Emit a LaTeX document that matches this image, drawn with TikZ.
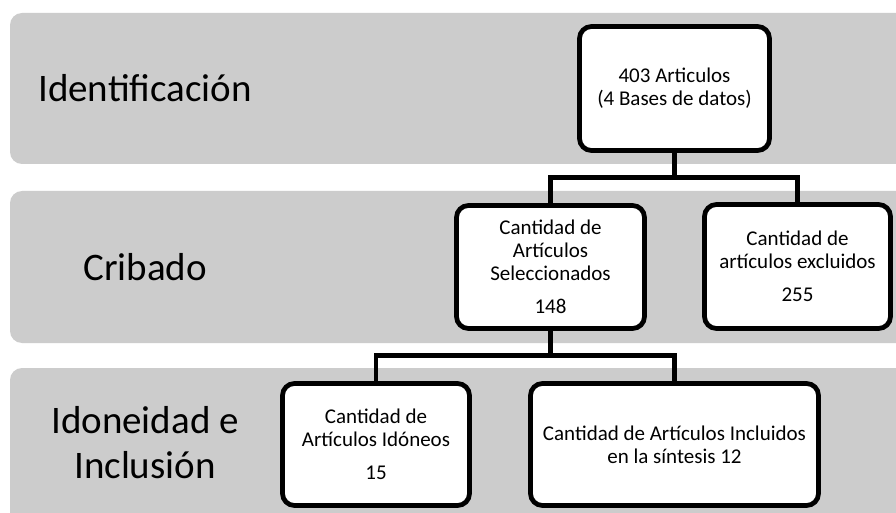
\documentclass[tikz,border=0pt]{standalone}
\usepackage{fontspec}
\setmainfont{Carlito}
\definecolor{bandgray}{HTML}{CCCCCC}
\begin{document}
\begin{tikzpicture}[x=1pt,y=-1pt,
  band/.style={fill=bandgray,draw=none,rounded corners=12pt},
  lbl/.style={align=center,font=\fontsize{39}{45}\selectfont,inner sep=0pt},
  boxnode/.style={draw=black,fill=white,line width=4.75pt,rounded corners=12pt,align=center,
     font=\fontsize{21}{23}\selectfont,inner sep=2pt},
  conn/.style={draw=black,line width=4.75pt}]
\useasboundingbox (0,0) rectangle (896,513);
\clip (0,0) rectangle (896,513);
\fill[white] (0,0) rectangle (896,513);
% bands
\path[band] (10,13) rectangle (920,164);
\path[band] (10,191) rectangle (920,343);
\path[band] (10,368) rectangle (920,540);
% band labels
\node[lbl] (l1) at (145,88) {Identificación};
\node[lbl] (l2) at (145,267) {Cribado};
\node[lbl] (l3) at (145,443) {Idoneidad e\\Inclusión};
% boxes
\node[boxnode,minimum width=190pt,minimum height=124pt] (top) at (674.5,88.5)
  {403 Articulos\\(4 Bases de datos)};
\node[boxnode,minimum width=188pt,minimum height=123pt] (sel) at (550.5,267)
  {Cantidad de\\Artículos\\Seleccionados\\[10pt]148};
\node[boxnode,minimum width=186pt,minimum height=124pt] (exc) at (797.5,266.5)
  {Cantidad de\\artículos excluidos\\[10pt]255};
\node[boxnode,minimum width=187pt,minimum height=122pt] (ido) at (376,444.5)
  {Cantidad de\\Artículos Idóneos\\[10pt]15};
\node[boxnode,minimum width=288pt,minimum height=122pt] (inc) at (674.5,444.5)
  {Cantidad de Artículos Incluidos\\en la síntesis 12};
% connectors
\coordinate (j1) at (674.5,177.5);
\coordinate (j2) at (550.5,355.5);
\draw[conn] (top.south) -- (j1);
\draw[conn] (sel.north) |- (j1) -| (exc.north);
\draw[conn] (sel.south) -- (j2);
\draw[conn] (ido.north) |- (j2) -| (inc.north);
\end{tikzpicture}
\end{document}
